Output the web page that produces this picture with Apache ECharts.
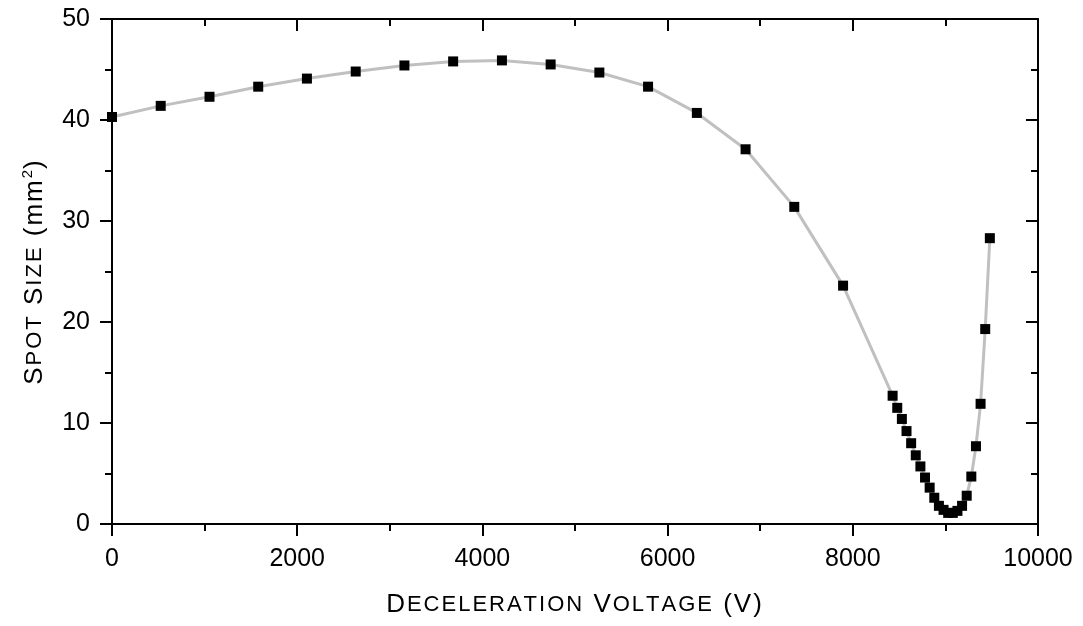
<!DOCTYPE html>
<html><head><meta charset="utf-8">
<script src="https://cdn.jsdelivr.net/npm/echarts@6/dist/echarts.min.js"></script>
<style>html,body{margin:0;padding:0;background:#fff}#c{width:1083px;height:626px}</style>
</head><body><div id="c"></div>
<script>
// Deceleration voltage (V) and spot size (mm^2)
const voltageCoarse = [0, 526, 1053, 1579, 2105, 2632, 3158, 3684, 4211, 4737, 5263, 5789, 6316, 6842, 7368, 7895];
const spotCoarse    = [40.3, 41.4, 42.3, 43.3, 44.1, 44.8, 45.4, 45.8, 45.9, 45.5, 44.7, 43.3, 40.7, 37.1, 31.4, 23.6];
const voltageFine = [8430, 8480, 8530, 8580, 8630, 8680, 8730, 8780, 8830, 8880, 8930, 8980, 9030, 9080, 9130, 9180, 9230, 9280, 9330, 9380, 9430, 9480];
const spotFine    = [12.7, 11.5, 10.4, 9.2, 8.0, 6.8, 5.7, 4.6, 3.6, 2.6, 1.8, 1.4, 1.1, 1.1, 1.3, 1.8, 2.8, 4.7, 7.7, 11.9, 19.3, 28.3];
const xRange = {min: 0, max: 10000, interval: 2000};
const yRange = {min: 0, max: 50, interval: 10};

const FONT = 'Liberation Sans, Arial, sans-serif';
const voltage = voltageCoarse.concat(voltageFine);
const spot = spotCoarse.concat(spotFine);
const data = voltage.map((v, i) => [v, spot[i]]);

// small-caps helper: parts = [[style, text], ...]
function smallCaps(parts) {
  let out = '';
  parts.forEach(([st, txt]) => {
    for (const ch of txt) out += '{' + st + '|' + ch + '}';
  });
  return out;
}
const sp = 2;
const rich = {
  b: {fontSize: 26, fontFamily: FONT, color: '#000', padding: [0, sp, 0, 0], lineHeight: 30},
  s: {fontSize: 22, fontFamily: FONT, color: '#000', padding: [0, sp, 0, 0], lineHeight: 30},
  sup: {fontSize: 15, fontFamily: FONT, color: '#000', verticalAlign: 'top', padding: [0, 1, 0, 0], lineHeight: 30}
};
const xName = smallCaps([['b','D'],['s','ECELERATION'],['b',' V'],['s','OLTAGE'],['b',' (V)']]);
const yName = smallCaps([['b','S'],['s','POT'],['b',' S'],['s','IZE'],['b',' (mm']]) + '{sup|2}' + '{b|)}';

const axisLine = {show: true, onZero: false, lineStyle: {color: '#000', width: 2}};
function mk(isX, primary) {
  const r = isX ? xRange : yRange;
  const ax = {
    type: 'value', min: r.min, max: r.max, interval: r.interval,
    position: isX ? (primary ? 'bottom' : 'top') : (primary ? 'left' : 'right'),
    axisLine: axisLine,
    axisTick: {show: true, inside: !primary, length: 12, lineStyle: {color: '#000', width: 2}},
    minorTick: {show: true, splitNumber: 2, length: 7, lineStyle: {color: '#000', width: 2}},
    splitLine: {show: false}, minorSplitLine: {show: false},
    axisLabel: {show: primary, fontSize: 25, fontFamily: FONT, color: '#000', margin: isX ? 23 : 22,
                formatter: v => String(v)},
    z: 1
  };
  if (primary) {
    ax.name = isX ? xName : yName;
    ax.nameLocation = 'middle';
    ax.nameGap = isX ? 66 : 62;
    ax.nameTextStyle = {rich: rich};
  }
  return ax;
}

const chart = echarts.init(document.getElementById('c'), null, {renderer: 'canvas'});
chart.setOption({
  animation: false,
  backgroundColor: '#fff',
  grid: {left: 112, right: 45, top: 19, bottom: 102, containLabel: false},
  xAxis: [mk(true, true), mk(true, false)],
  yAxis: [mk(false, true), mk(false, false)],
  series: [{
    type: 'line', data: data, xAxisIndex: 0, yAxisIndex: 0,
    symbol: 'rect', symbolSize: 10, showAllSymbol: true, clip: false,
    lineStyle: {color: '#c0c0c0', width: 3},
    itemStyle: {color: '#000'},
    z: 3
  }]
});
</script>
</body></html>
